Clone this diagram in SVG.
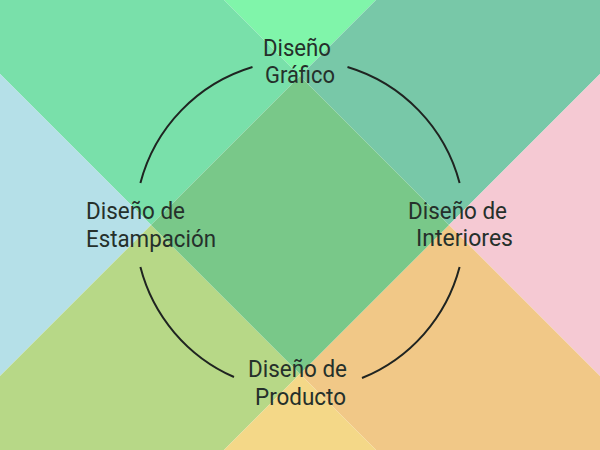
<svg xmlns="http://www.w3.org/2000/svg" width="600" height="450" viewBox="0 0 600 450">
  <style>
    .lbl { font-family: Roboto, "Liberation Sans", sans-serif; font-size: 23.5px; fill: #25302b; }
    .arc { fill: none; stroke: #1f2421; stroke-width: 2; stroke-linecap: butt; }
  </style>
  <g id="background">
    <polygon points="224,0 376,0 300,76" fill="#80f5aa"/>
    <polygon points="0,0 224,0 300,76 151,225 0,74" fill="#79e0aa"/>
    <polygon points="376,0 600,0 600,74 449,225 300,76" fill="#78c8a8"/>
    <polygon points="0,74 151,225 0,376" fill="#b5e0e8"/>
    <polygon points="600,74 600,376 449,225" fill="#f5c9d3"/>
    <polygon points="0,376 151,225 300,374 224,450 0,450" fill="#b7d887"/>
    <polygon points="449,225 600,376 600,450 376,450 300,374" fill="#f1c887"/>
    <polygon points="224,450 300,374 376,450" fill="#f4d888"/>
    <polygon points="300,76 449,225 300,374 151,225" fill="#79c889"/>
  </g>
  <g id="connectors">
    <path class="arc" d="M140.4,183 A165,165 0 0 1 252.5,67"/>
    <path class="arc" d="M347.5,67 A165,165 0 0 1 459.6,183"/>
    <path class="arc" d="M459.6,267 A165,165 0 0 1 362,378"/>
    <path class="arc" d="M234,377 A165,165 0 0 1 140.4,267"/>
  </g>
  <g id="node-grafico">
    <text class="lbl" x="263" y="56" textLength="68" lengthAdjust="spacingAndGlyphs">Diseño</text>
    <text class="lbl" x="265" y="83" textLength="70" lengthAdjust="spacingAndGlyphs">Gráfico</text>
  </g>
  <g id="node-estampacion">
    <text class="lbl" x="86" y="219" textLength="99" lengthAdjust="spacingAndGlyphs">Diseño de</text>
    <text class="lbl" x="86" y="247" textLength="130" lengthAdjust="spacingAndGlyphs">Estampación</text>
  </g>
  <g id="node-interiores">
    <text class="lbl" x="408" y="219" textLength="99" lengthAdjust="spacingAndGlyphs">Diseño de</text>
    <text class="lbl" x="416" y="246" textLength="97" lengthAdjust="spacingAndGlyphs">Interiores</text>
  </g>
  <g id="node-producto">
    <text class="lbl" x="248" y="377" textLength="99" lengthAdjust="spacingAndGlyphs">Diseño de</text>
    <text class="lbl" x="255" y="405" textLength="91" lengthAdjust="spacingAndGlyphs">Producto</text>
  </g>
</svg>
